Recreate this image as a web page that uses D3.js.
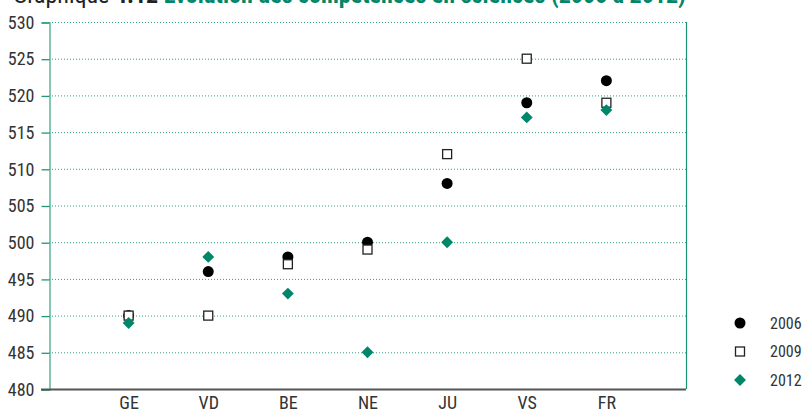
<!DOCTYPE html>
<html>
<head>
<meta charset="utf-8">
<script src="https://cdn.jsdelivr.net/npm/d3@7"></script>
<style>
  body { margin: 0; background: #fff; }
  svg text { font-family: "Liberation Sans Narrow", "Roboto Condensed", "DejaVu Sans Condensed", sans-serif; }
  .grid line { stroke: #2f9f80; stroke-dasharray: 1,2; }
</style>
</head>
<body>
<script>
var w = 805, h = 412;
var plotLeft = 49, plotRight = 686, plotTop = 22, plotBottom = 389;

var cantons = ["GE", "VD", "BE", "NE", "JU", "VS", "FR"];
var years = ["2006", "2009", "2012"];
var s2006 = [490, 496, 498, 500, 508, 519, 522];
var s2009 = [490, 490, 497, 499, 512, 525, 519];
var s2012 = [489, 498, 493, 485, 500, 517, 518];
var yTicks = [480, 485, 490, 495, 500, 505, 510, 515, 520, 525, 530];

var green = "#00876a";

var svg = d3.select("body").append("svg")
    .attr("width", w)
    .attr("height", h);

// title, cut off by the top edge like in the original
var title = svg.append("text")
    .attr("x", 13)
    .attr("y", 3)
    .style("font-size", "24px");
title.append("tspan").attr("fill", "#222").text("Graphique ");
title.append("tspan").attr("fill", "#222").style("font-weight", "bold").text("4.12 ");
title.append("tspan").attr("fill", green).style("font-weight", "bold")
    .text("Évolution des compétences en sciences (2006 à 2012)");

var x = d3.scalePoint().domain(cantons).range([plotLeft, plotRight]).padding(1);
var y = d3.scaleLinear().domain([480, 530]).range([plotBottom, plotTop]);

// gridlines
svg.append("g").attr("class", "grid")
  .selectAll("line").data(yTicks.slice(1)).enter().append("line")
    .attr("x1", plotLeft).attr("x2", plotRight)
    .attr("y1", function (d) { return y(d) + 0.5; })
    .attr("y2", function (d) { return y(d) + 0.5; });

// right border
svg.append("line")
    .attr("x1", plotRight + 0.5).attr("x2", plotRight + 0.5)
    .attr("y1", plotTop).attr("y2", plotBottom)
    .attr("stroke", "#1a9475").attr("stroke-width", 1.2);

// y axis
var yAxis = svg.append("g")
    .attr("transform", "translate(" + (plotLeft + 0.5) + ",0.5)")
    .call(d3.axisLeft(y).tickValues(yTicks).tickSize(8).tickPadding(7));
yAxis.select(".domain").attr("stroke", "#5fb49c").attr("stroke-width", 1.5);
yAxis.selectAll(".tick line").attr("stroke", "#1f9878").attr("stroke-width", 1.3);
yAxis.selectAll(".tick text").attr("fill", "#333").style("font-size", "18px");

// x axis
var xAxis = svg.append("g")
    .attr("transform", "translate(0," + (plotBottom + 0.5) + ")")
    .call(d3.axisBottom(x).tickSize(0).tickPadding(7));
xAxis.select(".domain").attr("d", "M" + (plotLeft - 8) + ",0H" + plotRight)
    .attr("stroke", "#555").attr("stroke-width", 2);
xAxis.selectAll(".tick text").attr("fill", "#333").style("font-size", "18px");

var diamond = d3.symbol().type(d3.symbolDiamond2).size(90);

// 2006 circles
svg.append("g").selectAll("circle").data(s2006).enter().append("circle")
    .attr("cx", function (d, i) { return x(cantons[i]); })
    .attr("cy", function (d) { return y(d); })
    .attr("r", 5.5)
    .attr("fill", "#000");

// 2009 squares
svg.append("g").selectAll("rect").data(s2009).enter().append("rect")
    .attr("x", function (d, i) { return x(cantons[i]) - 4.5; })
    .attr("y", function (d) { return y(d) - 4.5; })
    .attr("width", 9).attr("height", 9)
    .attr("fill", "#fff").attr("stroke", "#222").attr("stroke-width", 1.3);

// 2012 diamonds
svg.append("g").selectAll("path").data(s2012).enter().append("path")
    .attr("d", diamond)
    .attr("transform", function (d, i) { return "translate(" + x(cantons[i]) + "," + y(d) + ")"; })
    .attr("fill", green);

// legend
var legend = svg.append("g").attr("transform", "translate(740,323)");
var row = legend.selectAll("g").data(years).enter().append("g")
    .attr("transform", function (d, i) { return "translate(0," + i * 28.5 + ")"; });
row.each(function (d, i) {
    var g = d3.select(this);
    if (i == 0) g.append("circle").attr("r", 5.5).attr("fill", "#000");
    if (i == 1) g.append("rect").attr("x", -4.5).attr("y", -4.5).attr("width", 9).attr("height", 9)
        .attr("fill", "#fff").attr("stroke", "#222").attr("stroke-width", 1.3);
    if (i == 2) g.append("path").attr("d", diamond).attr("fill", green);
});
row.append("text")
    .attr("x", 30).attr("dy", "0.35em")
    .attr("fill", "#333").style("font-size", "16px")
    .text(function (d) { return d; });
</script>
</body>
</html>
